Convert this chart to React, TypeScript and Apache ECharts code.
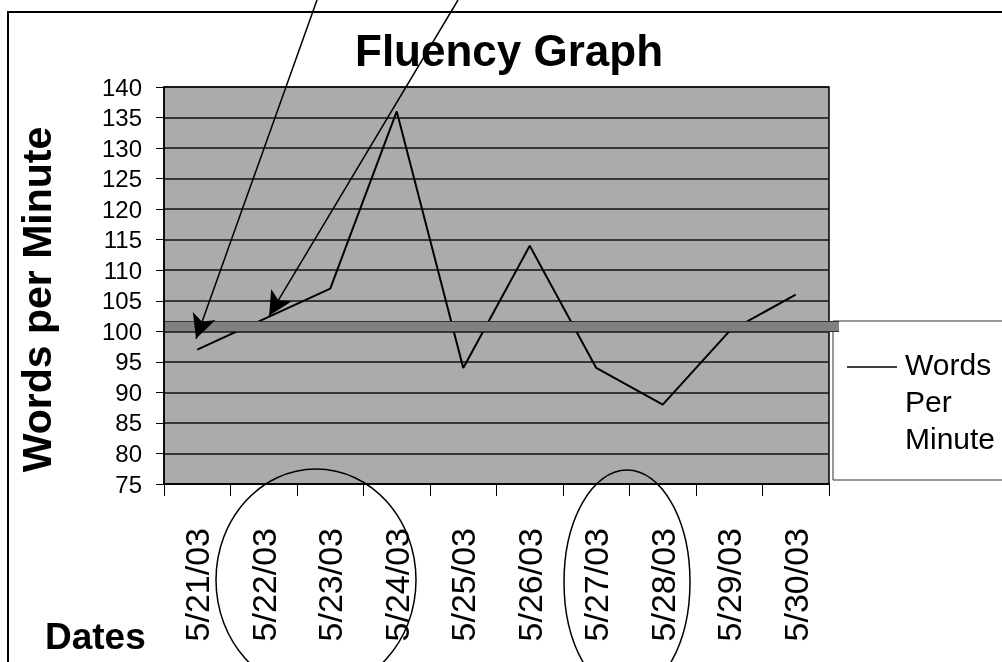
import React, { useEffect, useRef } from 'react';
import * as echarts from 'echarts';

const dates = ['5/21/03', '5/22/03', '5/23/03', '5/24/03', '5/25/03', '5/26/03', '5/27/03', '5/28/03', '5/29/03', '5/30/03'];
const wordsPerMinute = [97, 102, 107, 136, 94, 114, 94, 88, 100, 106];
const goalLow = 100;
const goalHigh = 101.6;
const yMin = 75;
const yMax = 140;
const yStep = 5;
const seriesName = 'Words Per Minute';
const legendLines = 'Words\nPer\nMinute';

const FONT = '"Liberation Sans", Arial, Helvetica, sans-serif';

// hand-drawn annotation arrows: [startX, startY, tipX, tipY]
const arrows = [
  [317, 0, 192, 350],
  [458, 0, 263, 326],
];

function arrowPair(a: number[]) {
  const [sx, sy, tx, ty] = a;
  const dx = tx - sx, dy = ty - sy;
  const len = Math.sqrt(dx * dx + dy * dy);
  const back = 12;
  const ex = tx - (dx / len) * back;
  const ey = ty - (dy / len) * back;
  return [
    { x: sx, y: sy, symbol: 'none', lineStyle: { color: '#000', width: 1.5, type: 'solid' } },
    { x: ex, y: ey, symbol: 'arrow', symbolSize: [18, 24] },
  ];
}

export default function App() {
  const ref = useRef<HTMLDivElement>(null);
  useEffect(() => {
    if (!ref.current) return;
    const chart = echarts.init(ref.current, null, { renderer: 'svg' });
    const bandMid = (goalLow + goalHigh) / 2;
    chart.setOption({
      animation: false,
      textStyle: { fontFamily: FONT },
      title: {
        text: 'Fluency Graph',
        left: 350,
        top: 23,
        textStyle: { fontSize: 44, fontWeight: 'bold', color: '#000', fontFamily: FONT },
      },
      grid: {
        left: 164,
        right: 173,
        top: 87,
        bottom: 178,
        show: true,
        backgroundColor: '#ababab',
        borderColor: '#000',
        borderWidth: 1.5,
      },
      xAxis: {
        type: 'category',
        data: dates,
        boundaryGap: true,
        axisLine: { show: true, lineStyle: { color: '#000', width: 1.5 } },
        axisTick: { show: true, length: 12, lineStyle: { color: '#000', width: 1 } },
        axisLabel: { rotate: 90, fontSize: 34, color: '#000', margin: 44, interval: 0, fontFamily: FONT },
        splitLine: { show: false },
      },
      yAxis: {
        type: 'value',
        min: yMin,
        max: yMax,
        interval: yStep,
        name: 'Words per Minute',
        nameLocation: 'middle',
        nameRotate: 90,
        nameGap: 107,
        nameTextStyle: { fontSize: 41, fontWeight: 'bold', color: '#000', fontFamily: FONT, padding: [0, 28, 0, 0] },
        axisLine: { show: true, lineStyle: { color: '#000', width: 1.5 } },
        axisTick: { show: true, length: 8, lineStyle: { color: '#000', width: 1 } },
        axisLabel: { fontSize: 24, color: '#000', margin: 22, fontFamily: FONT },
        splitLine: { show: true, lineStyle: { color: '#111', width: 1.5 } },
      },
      series: [
        {
          type: 'line',
          name: seriesName,
          data: wordsPerMinute,
          symbol: 'none',
          clip: false,
          lineStyle: { color: '#000', width: 2 },
          markLine: {
            silent: true,
            symbol: ['none', 'none'],
            label: { show: false },
            emphasis: { disabled: true },
            data: [
              [
                { yAxis: bandMid, x: 165, lineStyle: { color: '#808080', width: 10, type: 'solid' } },
                { yAxis: bandMid, x: 839 },
              ],
              [
                { yAxis: goalLow, x: 165, lineStyle: { color: '#333', width: 1, type: 'solid' } },
                { yAxis: goalLow, x: 839 },
              ],
              [
                { yAxis: goalHigh, x: 165, lineStyle: { color: '#333', width: 1, type: 'solid' } },
                { yAxis: goalHigh, x: 839 },
              ],
              ...arrows.map(arrowPair),
            ],
          },
        },
      ],
      graphic: [
        {
          type: 'rect',
          silent: true,
          z: -10,
          shape: { x: 8, y: 12, width: 1200, height: 800 },
          style: { fill: 'none', stroke: '#000', lineWidth: 2 },
        },
        {
          type: 'rect',
          silent: true,
          z: -5,
          shape: { x: 833, y: 321, width: 200, height: 159 },
          style: { fill: '#fff', stroke: '#333', lineWidth: 1 },
        },
        {
          type: 'line',
          silent: true,
          shape: { x1: 847, y1: 367, x2: 897, y2: 367 },
          style: { stroke: '#000', lineWidth: 1.5 },
        },
        {
          type: 'text',
          silent: true,
          x: 905,
          y: 346,
          style: { text: legendLines, fontSize: 30, lineHeight: 37, fontFamily: FONT, fill: '#000', verticalAlign: 'top' },
        },
        {
          type: 'text',
          silent: true,
          x: 45,
          y: 618,
          style: { text: 'Dates', fontSize: 37, fontWeight: 'bold', fontFamily: FONT, fill: '#000', verticalAlign: 'top' },
        },
        {
          type: 'ellipse',
          silent: true,
          z: 10,
          shape: { cx: 316, cy: 580, rx: 100, ry: 111 },
          style: { fill: 'none', stroke: '#000', lineWidth: 1.5 },
        },
        {
          type: 'ellipse',
          silent: true,
          z: 10,
          shape: { cx: 627, cy: 582, rx: 63, ry: 112 },
          style: { fill: 'none', stroke: '#000', lineWidth: 1.5 },
        },
      ],
    });
    return () => chart.dispose();
  }, []);
  return <div ref={ref} style={{ position: 'fixed', left: 0, top: 0, width: 1002, height: 662 }} />;
}
